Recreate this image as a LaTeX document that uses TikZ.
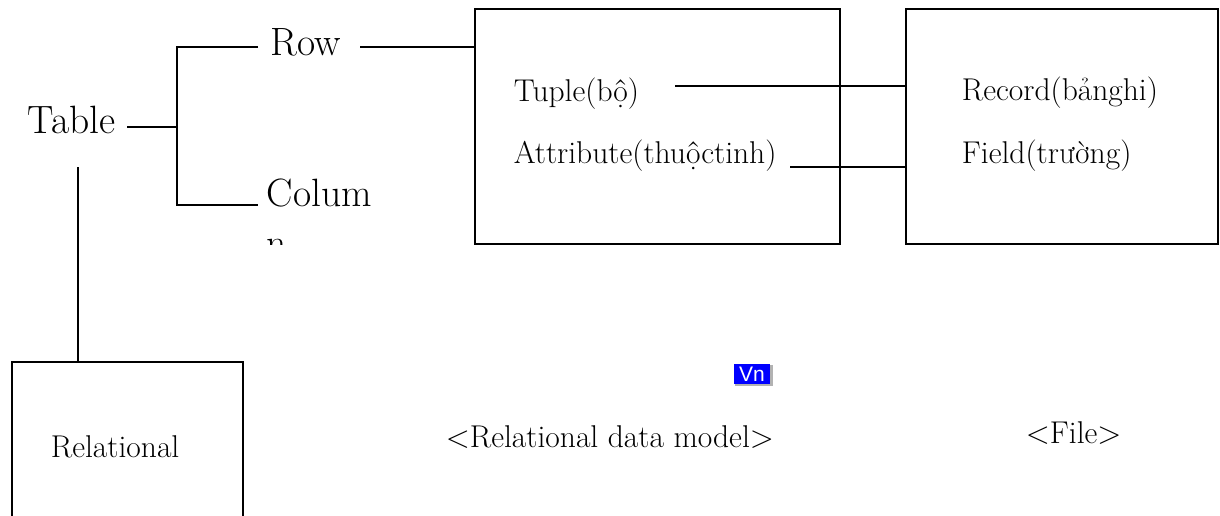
\documentclass[tikz,border=0pt]{standalone}
\usepackage{fontspec}
\newfontfamily\vnfont{Liberation Sans}
\begin{document}
\begin{tikzpicture}[x=1pt,y=-1pt,
  line width=1.8pt,
  big/.style={inner sep=0pt,anchor=base west,font=\rmfamily\fontsize{39.5}{46}\selectfont},
  small/.style={inner sep=0pt,anchor=base west,font=\rmfamily\fontsize{31.5}{38}\selectfont},
  framebox/.style={draw,line width=1.8pt,inner sep=0pt,rectangle}]
\useasboundingbox (0,0) rectangle (1220,516);

% tree on the left
\node[big] (table) at (27,134) {Table};
\node[big] (row) at (270,56) {Row};
\node[big] (colum) at (266,206) {Colum};
\begin{scope}
  \clip (250,236) rectangle (400,244);
  \node[big] (colum2) at (266,256) {n};
\end{scope}

\coordinate (tabR) at (127,127);
\coordinate (jT) at (177,47);
\coordinate (jB) at (177,205);
\coordinate (rowL) at (258,47);
\coordinate (colL) at (258,205);
\coordinate (rowR) at (360,47);
\coordinate (tabD) at (78,167);

% boxes
\node[framebox,minimum width=365pt,minimum height=235pt] (mid) at (657.5,126.5) {};
\node[framebox,minimum width=312pt,minimum height=235pt] (rec) at (1062,126.5) {};

\node[small] (tuple) at (513,102) {Tuple(bộ)};
\node[small] (attr) at (513,163) {Attribute(thuộctinh)};
\node[small] (record) at (961,101) {Record(bảnghi)};
\node[small] (field) at (961,163) {Field(trường)};

\coordinate (tupR) at (675,86);
\coordinate (attR) at (790,167);

% relational box, running off the bottom edge
\coordinate (relTL) at (12,362);
\coordinate (relTR) at (243,362);
\draw (12,530) -- (relTL) -- (relTR) -- (243,530);
\node[small] (rel) at (50,457) {Relational};

% connectors
\draw (tabR) -- (tabR -| jT);
\draw (rowL) -- (jT) -- (jB) -- (colL);
\draw (rowR) -- (rowR -| mid.west);
\draw (tupR) -- (tupR -| rec.west);
\draw (attR) -- (attR -| rec.west);
\draw (tabD) -- (tabD |- relTL);

% captions
\node[small] (cap1) at (445,447) {<Relational data model>};
\node[small] (cap2) at (1025,443) {<File>};

% small language indicator
\fill[gray!60] (735,365) rectangle (773,386);
\node[fill={rgb,255:red,0;green,0;blue,255},text=white,inner sep=0pt,
      minimum width=36pt,minimum height=20pt,anchor=north west,
      font=\vnfont\fontsize{21}{21}\selectfont] (vn) at (733,363) {Vn};
\end{tikzpicture}
\end{document}
